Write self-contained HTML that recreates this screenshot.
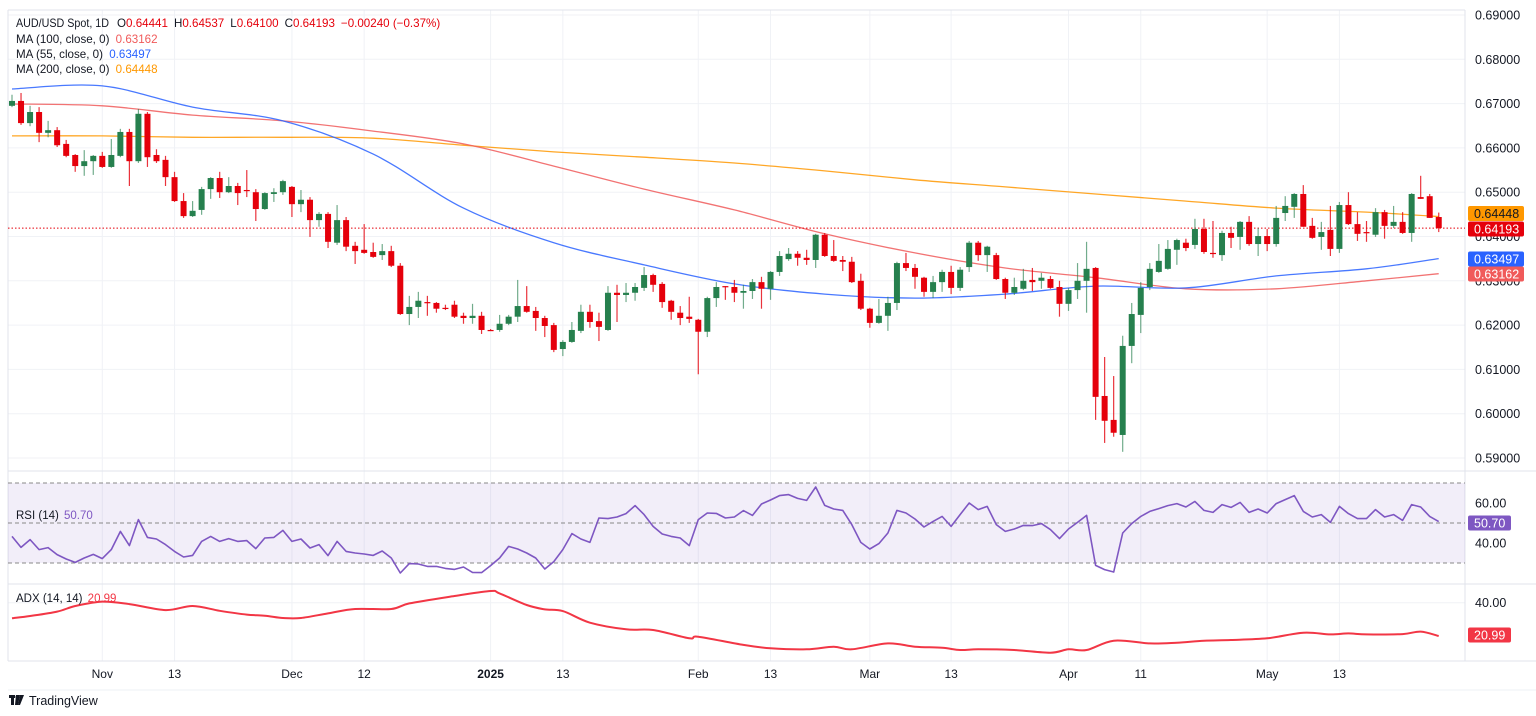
<!DOCTYPE html>
<html><head><meta charset="utf-8">
<style>
html,body{margin:0;padding:0;background:#fff;}
svg{display:block;font-family:"Liberation Sans",Arial,sans-serif;}
</style></head>
<body>
<svg id="chart" width="1536" height="716" viewBox="0 0 1536 716">
  <rect x="0" y="0" width="1536" height="716" fill="#ffffff"/>
  <g id="grid"></g>
  <g id="panes"></g>
  <g id="rsiPane"></g>
  <g id="mas"></g>
  <g id="candles"></g>
  <g id="adxPane"></g>
  <g id="axes"></g>
  <g id="legend">
    <text x="16" y="27" font-size="11.6" fill="#131722"><tspan textLength="93" lengthAdjust="spacingAndGlyphs">AUD/USD Spot, 1D</tspan><tspan dx="8">O</tspan><tspan fill="#e5000b">0.64441</tspan><tspan dx="6">H</tspan><tspan fill="#e5000b">0.64537</tspan><tspan dx="6">L</tspan><tspan fill="#e5000b">0.64100</tspan><tspan dx="6">C</tspan><tspan fill="#e5000b">0.64193</tspan><tspan dx="6" fill="#e5000b">−0.00240 (−0.37%)</tspan></text>
    <text x="16" y="43" font-size="11.6" fill="#131722">MA (100, close, 0) <tspan dx="3" fill="#f05a5a">0.63162</tspan></text>
    <text x="16" y="58" font-size="11.6" fill="#131722">MA (55, close, 0) <tspan dx="3" fill="#2962ff">0.63497</tspan></text>
    <text x="16" y="73" font-size="11.6" fill="#131722">MA (200, close, 0) <tspan dx="3" fill="#ff9800">0.64448</tspan></text>
    <text x="16" y="519" font-size="11.5" fill="#131722">RSI (14) <tspan dx="2" fill="#7e57c2">50.70</tspan></text>
    <text x="16" y="602" font-size="11.5" fill="#131722">ADX (14, 14) <tspan dx="2" fill="#f23645">20.99</tspan></text>
  </g>
  <g>
    <rect x="9" y="695" width="6" height="3" fill="#131722"/>
    <rect x="11" y="695" width="3" height="10" fill="#131722"/>
    <polygon points="16,695 20,695 18,705 15,705" fill="#131722"/>
    <circle cx="17" cy="697" r="1.5" fill="#131722"/>
    <polygon points="20,695 24,695 20,705 18,705" fill="#131722"/>
    <text x="29" y="705" font-size="12.5" fill="#131722">TradingView</text>
  </g>
</svg>
<script>
// ---- data ----
const opens=[.6695,.6706,.6656,.6681,.6634,.6640,.6609,.6584,.6559,.6570,.6582,.6557,.6582,.6636,.6570,.6677,.6584,.6573,.6534,.6480,.6446,.6460,.6507,.6532,.6500,.6514,.6505,.6500,.6462,.6496,.6500,.6512,.6473,.6483,.6437,.6451,.6386,.6437,.6379,.6370,.6365,.6358,.6367,.6334,.6225,.6241,.6252,.6250,.6239,.6246,.6221,.6216,.6221,.6189,.6189,.6203,.6219,.6243,.6232,.6216,.6200,.6146,.6162,.6187,.6230,.6209,.6189,.6273,.6268,.6273,.6284,.6313,.6293,.6255,.6228,.6219,.6212,.6185,.6261,.6288,.6286,.6273,.6277,.6297,.6282,.6320,.6349,.6361,.6352,.6347,.6404,.6356,.6347,.6343,.6300,.6237,.6205,.6221,.6250,.6340,.6329,.6307,.6275,.6297,.6320,.6284,.6331,.6386,.6358,.6358,.6304,.6273,.6282,.6302,.6300,.6304,.6286,.6248,.6279,.6300,.6329,.6040,.5986,.5952,.6153,.6223,.6286,.6320,.6327,.6370,.6386,.6381,.6417,.6363,.6358,.6408,.6399,.6433,.6383,.6401,.6383,.6453,.6467,.6496,.6424,.6399,.6415,.6372,.6471,.6428,.6410,.6404,.6455,.6424,.6433,.6408,.6489,.6491,.6444];
const highs=[.6720,.6724,.6695,.6692,.6661,.6647,.6618,.6586,.6595,.6584,.6591,.6620,.6643,.6643,.6688,.6681,.6597,.6582,.6546,.6498,.6480,.6512,.6534,.6546,.6534,.6521,.6550,.6507,.6500,.6509,.6528,.6514,.6505,.6489,.6455,.6455,.6471,.6444,.6388,.6428,.6386,.6383,.6379,.6340,.6266,.6275,.6266,.6252,.6246,.6255,.6228,.6248,.6230,.6191,.6223,.6223,.6302,.6288,.6241,.6221,.6205,.6166,.6207,.6246,.6246,.6228,.6288,.6291,.6295,.6295,.6331,.6316,.6297,.6257,.6243,.6264,.6214,.6264,.6297,.6288,.6302,.6291,.6304,.6309,.6322,.6367,.6374,.6367,.6370,.6406,.6408,.6392,.6356,.6354,.6316,.6239,.6259,.6264,.6343,.6363,.6338,.6309,.6311,.6325,.6334,.6331,.6390,.6390,.6379,.6363,.6307,.6307,.6327,.6329,.6318,.6311,.6300,.6284,.6340,.6388,.6331,.6128,.6085,.6176,.6250,.6297,.6340,.6383,.6392,.6395,.6395,.6440,.6440,.6435,.6413,.6422,.6435,.6446,.6419,.6417,.6469,.6491,.6498,.6516,.6442,.6433,.6469,.6478,.6500,.6455,.6435,.6464,.6460,.6469,.6455,.6498,.6537,.6496,.6454];
const lows=[.6692,.6652,.6649,.6613,.6624,.6602,.6579,.6546,.6537,.6539,.6555,.6555,.6579,.6514,.6566,.6557,.6566,.6514,.6478,.6442,.6444,.6449,.6485,.6487,.6498,.6471,.6489,.6435,.6460,.6478,.6494,.6444,.6455,.6399,.6422,.6374,.6381,.6367,.6338,.6361,.6352,.6347,.6331,.6223,.6200,.6216,.6221,.6228,.6234,.6216,.6203,.6203,.6180,.6187,.6185,.6200,.6207,.6228,.6187,.6173,.6139,.6130,.6160,.6182,.6194,.6164,.6187,.6207,.6252,.6255,.6277,.6275,.6239,.6212,.6200,.6205,.6089,.6173,.6241,.6257,.6252,.6237,.6259,.6237,.6257,.6311,.6345,.6334,.6336,.6329,.6354,.6343,.6322,.6295,.6234,.6194,.6203,.6187,.6234,.6322,.6282,.6264,.6261,.6275,.6270,.6277,.6320,.6345,.6320,.6302,.6259,.6268,.6279,.6277,.6282,.6282,.6219,.6232,.6259,.6228,.5986,.5934,.5948,.5914,.6114,.6182,.6279,.6318,.6325,.6336,.6367,.6372,.6361,.6352,.6345,.6374,.6370,.6379,.6356,.6367,.6377,.6435,.6442,.6422,.6395,.6370,.6356,.6363,.6426,.6390,.6388,.6399,.6395,.6419,.6406,.6388,.6485,.6442,.6410];
const closes=[.6706,.6656,.6681,.6634,.6640,.6606,.6582,.6559,.6570,.6582,.6557,.6584,.6636,.6570,.6677,.6579,.6570,.6534,.6480,.6446,.6458,.6507,.6532,.6500,.6514,.6498,.6503,.6462,.6498,.6500,.6525,.6473,.6483,.6437,.6451,.6388,.6437,.6377,.6367,.6363,.6354,.6367,.6334,.6225,.6241,.6255,.6250,.6237,.6237,.6219,.6216,.6221,.6189,.6188,.6203,.6219,.6243,.6230,.6216,.6198,.6144,.6162,.6189,.6230,.6207,.6196,.6273,.6268,.6273,.6286,.6313,.6291,.6252,.6230,.6216,.6214,.6185,.6261,.6286,.6286,.6273,.6277,.6297,.6282,.6320,.6356,.6361,.6352,.6347,.6404,.6356,.6345,.6343,.6297,.6237,.6205,.6221,.6250,.6340,.6329,.6309,.6275,.6297,.6320,.6284,.6325,.6386,.6358,.6377,.6304,.6273,.6286,.6300,.6297,.6307,.6284,.6248,.6279,.6300,.6327,.6038,.5984,.5957,.6153,.6225,.6284,.6327,.6345,.6372,.6392,.6374,.6417,.6365,.6361,.6408,.6397,.6433,.6383,.6401,.6383,.6442,.6469,.6496,.6422,.6397,.6410,.6372,.6471,.6428,.6406,.6408,.6455,.6424,.6433,.6408,.6496,.6485,.6442,.6419];
const maIdx=[0,10,20,30,40,50,60,70,80,90,100,110,120,130,140,150,158];
const ma55=[.6733,.6740,.6692,.6661,.6586,.6464,.6386,.6336,.6293,.6270,.6261,.6270,.6288,.6284,.6311,.6327,.6350];
const ma100=[.6699,.6695,.6674,.6661,.6638,.6609,.6559,.6507,.6460,.6406,.6363,.6329,.6307,.6282,.6282,.6300,.6316];
const ma200=[.6627,.6627,.6624,.6624,.6622,.6606,.6591,.6579,.6566,.6548,.6528,.6512,.6496,.6480,.6464,.6455,.6445];
const rsi=[43.3,37.8,41.7,36.7,37.7,34.2,32,30.3,32.5,34.3,32.2,36.7,45.8,38.7,51.7,42.8,42,39.2,35.8,33,33.8,40.8,43.3,40.8,42.2,40.8,41.2,37.2,42.5,42.8,46.3,40.8,42,37.5,39.2,33.7,40.8,35.8,35,34.5,33.8,36,32.5,25,29.7,29.5,28.3,28.3,27.3,26.8,28,25.3,25.2,28.7,32.5,38.3,37,35,32.5,27,30.7,36.7,44.7,42,40.3,52.5,52.2,53,54.7,58.7,54.2,48.3,44.5,43.3,42.5,38.7,51.7,55,54.8,52.5,53,56.2,53.8,59.5,61.5,63.7,64.2,62.3,61.3,68,58.8,57,56.3,49.2,40.3,37,39.7,45,56.3,55,52,48,50.8,53.3,48.3,54.2,60,56.7,58.3,49.2,45.8,47,48.8,48.7,49.7,46.7,42.2,47,50.3,53.8,28.8,26.7,25.5,45,49.7,53.3,55.8,57.2,58.7,59.7,58,60.8,56.3,55.3,59.2,57.8,60.3,55.3,57,55,59.7,61.7,63.7,55.8,53,54.2,50.3,58.3,54.7,52.2,52.2,56.7,53,54.2,51.3,59.2,58,53.3,50.7];
const adxIdx=[0,2,5,7,10,13,17,20,23,26,28,30,32,35,38,42,44,49,53,54,57,59,61,64,68,71,75,76,81,84,88,91,93,97,100,103,105,107,111,115,117,119,122,126,129,132,135,139,143,146,148,150,154,156,158];
const adxVal=[31.1,32.4,34.9,38.1,40.6,39.2,35.8,38.1,35.4,33.2,32.6,31.3,31.3,33.9,36.4,36.4,39.6,43.8,46.7,45.3,38.7,36.2,35.2,28.6,24.8,24.4,19.7,20.6,15.9,14,13.4,14.9,13.4,16.8,14.9,14.3,13,13.4,13,11.5,13.4,13,18.3,16.8,17.2,18.3,18.7,19.7,22.9,21.9,22.5,21.9,22.1,23.5,21];
const priceTicks=[0.69,0.68,0.67,0.66,0.65,0.64,0.63,0.62,0.61,0.60,0.59];
const rsiTicks=[60,40];
const adxTicks=[40];
const dateLabels=["Nov","13","Dec","12","2025","13","Feb","13","Mar","13","Apr","11","May","13"];
const dateBars=[10,18,31,39,53,61,76,84,95,104,117,125,139,147];

// ---- scales ----
const NS="http://www.w3.org/2000/svg";
const L=8, R=1465;
const xB=i=>12+9.03*i;
const yP=p=>15+(0.69-p)*4430;
const yR=v=>623-2*v;
const yA=v=>602.7+(40-v)*1.753;
function mk(tag,attrs,parent){const e=document.createElementNS(NS,tag);for(const k in attrs)e.setAttribute(k,attrs[k]);parent.appendChild(e);return e;}
function smooth(pts){let d="M"+pts[0][0].toFixed(1)+","+pts[0][1].toFixed(1);
  for(let i=0;i<pts.length-1;i++){const p0=pts[Math.max(0,i-1)],p1=pts[i],p2=pts[i+1],p3=pts[Math.min(pts.length-1,i+2)];
    const c1=[p1[0]+(p2[0]-p0[0])/6,p1[1]+(p2[1]-p0[1])/6],c2=[p2[0]-(p3[0]-p1[0])/6,p2[1]-(p3[1]-p1[1])/6];
    d+=" C"+c1[0].toFixed(1)+","+c1[1].toFixed(1)+" "+c2[0].toFixed(1)+","+c2[1].toFixed(1)+" "+p2[0].toFixed(1)+","+p2[1].toFixed(1);}
  return d;}

const grid=document.getElementById('grid'),panes=document.getElementById('panes'),axes=document.getElementById('axes');
dateBars.forEach((b,k)=>{
  const l=mk('line',{x1:xB(b),x2:xB(b),y1:10,y2:661,stroke:'#f0f2f6','stroke-width':1},grid);
  
  
  const t=mk('text',{x:xB(b),y:678,'text-anchor':'middle','font-size':12,fill:'#131722','font-weight':dateLabels[k]==='2025'?'bold':'normal'},axes);
  t.textContent=dateLabels[k];
  
  
});
priceTicks.forEach(p=>{
  const l=mk('line',{x1:L,x2:R,y1:yP(p),y2:yP(p),stroke:'#f0f2f6','stroke-width':1},grid);
  
  
  const t=mk('text',{x:1475,y:yP(p)+4.5,'font-size':12.5,fill:'#131722'},axes);
  t.textContent=p.toFixed(5);
  
  
});
[[L,10,R,10],[L,471,1536,471],[L,584,1536,584],[L,661,1536,661],[L,10,L,661],[R,10,R,661]].forEach(a=>{
  const l=mk('line',{x1:a[0],y1:a[1],x2:a[2],y2:a[3],stroke:'#e0e3eb','stroke-width':1},panes);
  
  
});
mk('line',{x1:L,y1:690,x2:1536,y2:690,stroke:'#eef0f4'},panes);

// RSI pane
const rp=document.getElementById('rsiPane');
const band=mk('rect',{x:L,y:yR(70),width:R-L,height:yR(30)-yR(70),fill:'#7e57c2','fill-opacity':0.1},rp);


[70,50,30].forEach(v=>{
  const l=mk('line',{x1:L,x2:R,y1:yR(v),y2:yR(v),stroke:'#888','stroke-dasharray':'4,3','stroke-width':1},rp);
  
  
});
rsiTicks.forEach(v=>{
  const t=mk('text',{x:1475,y:yR(v)+4.5,'font-size':12.5,fill:'#131722'},axes);
  t.textContent=v.toFixed(2);
  
  
});
const rl=mk('polyline',{points:rsi.map((v,i)=>xB(i).toFixed(1)+","+yR(v).toFixed(1)).join(" "),fill:'none',stroke:'#7e57c2','stroke-width':1.6,'stroke-linejoin':'round'},rp);



// ADX pane
const ap=document.getElementById('adxPane');
adxTicks.forEach(v=>{
  const l=mk('line',{x1:L,x2:R,y1:yA(v),y2:yA(v),stroke:'#f0f2f6'},grid);
  
  
  const t=mk('text',{x:1475,y:yA(v)+4.5,'font-size':12.5,fill:'#131722'},axes);
  t.textContent=v.toFixed(2);
  
  
});
const al=mk('path',{d:smooth(adxIdx.map((b,k)=>[xB(b),yA(adxVal[k])])),fill:'none',stroke:'#f23645','stroke-width':2},ap);



// MAs
const mg=document.getElementById('mas');
[[ma200,'#ff9800','ma200-line'],[ma100,'#f05a5a','ma100-line'],[ma55,'#2962ff','ma55-line']].forEach(s=>{
  const p=mk('path',{d:smooth(maIdx.map((b,k)=>[xB(b),yP(s[0][k])])),fill:'none',stroke:s[1],'stroke-width':1.3,'stroke-opacity':0.85},mg);
  
  
});
const lastC=closes[closes.length-1];
const lp=mk('line',{x1:L,x2:R,y1:yP(lastC),y2:yP(lastC),stroke:'#e5000b','stroke-dasharray':'1.5,2','stroke-width':1},mg);



// candles
const cg=document.getElementById('candles');
closes.forEach((c,i)=>{
  const o=opens[i],up=c>=o,col=up?'#26804e':'#e5000b',x=xB(i);
  const g=mk('g',{},cg);
  
  
  mk('line',{x1:x,x2:x,y1:yP(highs[i]),y2:yP(lows[i]),stroke:col,'stroke-width':1.2,'stroke-opacity':up?0.65:0.8},g);
  const top=yP(Math.max(o,c)),h=Math.max(1.2,Math.abs(yP(o)-yP(c)));
  mk('rect',{x:x-3,y:top,width:6,height:h,fill:col},g);
});

// axis value boxes
function box(y,txt,bg,name,w){
  const g=mk('g',{},axes);
  
  
  mk('rect',{x:1468,y:y-7.5,width:w||56,height:15,rx:2,fill:bg},g);
  const t=mk('text',{x:1474,y:y+4.5,'font-size':12.5,fill:bg==='#ff9800'?'#131722':'#fff'},g);
  t.textContent=txt;
}
box(213.5,'0.64448','#ff9800','ma200-value-box');
box(229,'0.64193','#e5000b','last-price-box');
box(259,'0.63497','#2962ff','ma55-value-box');
box(274,'0.63162','#f05a5a','ma100-value-box');
box(523,rsi[rsi.length-1].toFixed(2),'#7e57c2','rsi-value-box',43);
box(635,'20.99','#f23645','adx-value-box',43);
</script>
</body></html>
